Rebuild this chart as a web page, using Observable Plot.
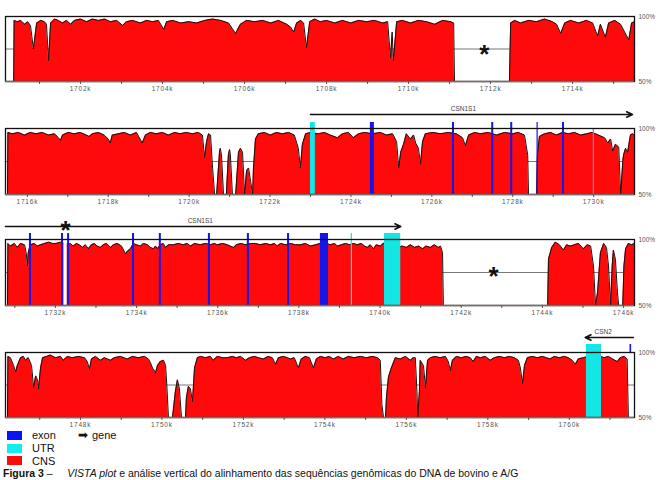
<!DOCTYPE html>
<html><head><meta charset="utf-8">
<script src="https://cdn.jsdelivr.net/npm/d3@7"></script>
<script src="https://cdn.jsdelivr.net/npm/@observablehq/plot@0.6"></script>
<style>
body{margin:0;background:#fff;}
#wrap{position:relative;width:660px;height:480px;overflow:hidden;font-family:'Liberation Sans',Arial,sans-serif;background:#fff;}
.panel{position:absolute;left:0;}
g[aria-label="x-axis tick label"] text{letter-spacing:0.8px;}
#legend{position:absolute;left:7px;top:429px;font-size:11px;line-height:12.8px;color:#111;}
#legend .row{display:flex;align-items:center;height:12.8px;}
#legend .sw{display:inline-block;width:15px;height:9px;margin-right:10px;}
#caption{position:absolute;left:3px;top:468px;font-size:10.5px;line-height:11px;white-space:nowrap;color:#111;}
</style></head>
<body><div id="wrap"></div>
<script>
// ---------- data (kb position, % identity) ----------
const p1Domain = [1700.17, 1715.51];
const p1Ticks = [1701,1702,1703,1704,1705,1706,1707,1708,1709,1710,1711,1712,1713,1714,1715];
const p1Labels = [1702,1704,1706,1708,1710,1712,1714];
const p1Profile = [[1700.37,50],[1700.38,97],[1700.46,96],[1700.54,97],[1700.64,94],[1700.71,96],[1700.78,93],[1700.85,75],[1700.93,95],[1701.03,97],[1701.12,96],[1701.17,94],[1701.22,66],[1701.27,95],[1701.37,98],[1701.46,97],[1701.56,95],[1701.66,97],[1701.76,94],[1701.85,97],[1702.00,98],[1702.15,96],[1702.29,98],[1702.44,97],[1702.59,98],[1702.73,96],[1702.88,97],[1703.03,93],[1703.12,96],[1703.27,97],[1703.46,95],[1703.61,97],[1703.76,96],[1703.90,97],[1704.03,90],[1704.10,96],[1704.25,97],[1704.44,95],[1704.64,96],[1704.83,95],[1705.03,97],[1705.22,98],[1705.42,97],[1705.61,95],[1705.78,87],[1705.90,94],[1706.05,97],[1706.25,96],[1706.44,97],[1706.64,95],[1706.83,97],[1707.03,94],[1707.12,92],[1707.20,88],[1707.27,95],[1707.37,97],[1707.44,95],[1707.51,76],[1707.59,96],[1707.71,98],[1707.85,96],[1708.00,97],[1708.20,95],[1708.39,97],[1708.59,95],[1708.78,97],[1708.98,96],[1709.17,97],[1709.37,95],[1709.49,96],[1709.56,68],[1709.60,88],[1709.63,66],[1709.71,96],[1709.85,97],[1710.05,95],[1710.24,97],[1710.44,96],[1710.64,94],[1710.83,97],[1711.03,96],[1711.10,95],[1711.12,50],[1711.80,null],[1712.46,50],[1712.49,95],[1712.59,97],[1712.73,95],[1712.93,97],[1713.12,96],[1713.32,98],[1713.51,96],[1713.61,94],[1713.71,87],[1713.81,95],[1713.95,97],[1714.15,95],[1714.34,97],[1714.49,95],[1714.61,85],[1714.68,94],[1714.80,84],[1714.88,95],[1715.03,97],[1715.17,94],[1715.37,82],[1715.44,95],[1715.51,96]];
const p1Asterisks = [[1711.85,76.2]];

const p2Domain = [1715.46, 1731.01];
const p2Ticks = [1716,1717,1718,1719,1720,1721,1722,1723,1724,1725,1726,1727,1728,1729,1730];
const p2Labels = [1716,1718,1720,1722,1724,1726,1728,1730];
const p2Profile = [[1715.51,50],[1715.52,97],[1715.63,96],[1715.78,97],[1715.93,95],[1716.07,97],[1716.22,96],[1716.37,97],[1716.52,95],[1716.67,96],[1716.77,93],[1716.82,91],[1716.87,95],[1717.01,97],[1717.16,96],[1717.31,97],[1717.46,95],[1717.53,94],[1717.61,96],[1717.76,97],[1717.90,95],[1718.00,92],[1718.05,89],[1718.10,95],[1718.25,96],[1718.40,97],[1718.55,95],[1718.70,97],[1718.84,89],[1718.92,95],[1719.04,97],[1719.19,96],[1719.34,97],[1719.49,95],[1719.64,97],[1719.78,96],[1719.93,97],[1720.08,96],[1720.23,97],[1720.33,95],[1720.38,78],[1720.43,90],[1720.48,96],[1720.53,95],[1720.58,70],[1720.63,50],[1720.65,null],[1720.68,50],[1720.75,82],[1720.77,85],[1720.80,80],[1720.85,50],[1720.88,null],[1720.92,50],[1720.97,80],[1721.00,84],[1721.02,80],[1721.07,50],[1721.10,null],[1721.15,50],[1721.22,82],[1721.27,85],[1721.32,82],[1721.37,50],[1721.42,68],[1721.47,70],[1721.52,60],[1721.57,50],[1721.59,70],[1721.64,92],[1721.71,96],[1721.86,97],[1722.01,95],[1722.16,97],[1722.31,96],[1722.46,97],[1722.60,95],[1722.70,85],[1722.75,70],[1722.80,88],[1722.88,96],[1723.00,97],[1723.20,96],[1723.35,97],[1723.49,95],[1723.67,93],[1723.79,96],[1723.94,97],[1724.06,93],[1724.19,96],[1724.34,97],[1724.53,96],[1724.73,97],[1724.88,95],[1725.03,96],[1725.13,90],[1725.18,70],[1725.23,82],[1725.30,88],[1725.37,96],[1725.47,92],[1725.55,95],[1725.60,89],[1725.67,85],[1725.72,73],[1725.77,90],[1725.84,96],[1726.02,97],[1726.22,96],[1726.41,97],[1726.61,96],[1726.76,93],[1726.83,87],[1726.91,95],[1727.06,97],[1727.20,96],[1727.40,97],[1727.60,95],[1727.80,97],[1728.00,96],[1728.14,97],[1728.29,95],[1728.37,80],[1728.39,50],[1728.50,null],[1728.59,50],[1728.61,80],[1728.66,94],[1728.79,96],[1728.94,97],[1729.08,95],[1729.23,97],[1729.38,96],[1729.53,97],[1729.68,95],[1729.83,96],[1729.97,97],[1730.12,95],[1730.27,93],[1730.35,89],[1730.42,92],[1730.47,83],[1730.54,88],[1730.62,86],[1730.67,50],[1730.72,75],[1730.74,80],[1730.79,85],[1730.84,82],[1730.91,95],[1730.96,96],[1731.01,95]];
const p2Exons = [[1724.48,1724.58],[1726.51,1726.56],[1727.48,1727.53],[1727.95,1728.00],[1728.60,1728.63],[1729.23,1729.28]];
const p2Utrs = [[1723.00,1723.12]];
const p2Faint = [[1729.99,1730.02]];
const p2Genes = [{name:"CSN1S1", start:1723.00, end:1730.96, labelAt:1726.78}];

const p3Domain = [1730.77, 1746.27];
const p3Ticks = [1731,1732,1733,1734,1735,1736,1737,1738,1739,1740,1741,1742,1743,1744,1745,1746];
const p3Labels = [1732,1734,1736,1738,1740,1742,1744,1746];
const p3Profile = [[1730.82,50],[1730.83,97],[1730.89,95],[1730.99,97],[1731.06,94],[1731.14,97],[1731.24,96],[1731.28,90],[1731.31,80],[1731.33,90],[1731.38,96],[1731.48,97],[1731.56,95],[1731.63,96],[1731.73,97],[1731.83,98],[1731.93,97],[1732.02,97],[1732.12,98],[1732.17,97],[1732.22,97],[1732.27,97],[1732.32,96],[1732.37,97],[1732.44,95],[1732.52,97],[1732.59,96],[1732.67,94],[1732.74,96],[1732.81,93],[1732.89,96],[1732.96,97],[1733.03,95],[1733.11,94],[1733.18,96],[1733.26,97],[1733.36,94],[1733.43,96],[1733.53,97],[1733.63,95],[1733.68,92],[1733.73,89],[1733.77,91],[1733.85,93],[1733.92,97],[1734.00,96],[1734.10,95],[1734.17,97],[1734.27,96],[1734.34,94],[1734.42,93],[1734.47,95],[1734.51,93],[1734.59,96],[1734.66,97],[1734.71,94],[1734.79,96],[1734.91,96],[1735.03,97],[1735.15,96],[1735.25,97],[1735.33,95],[1735.43,97],[1735.57,96],[1735.70,97],[1735.82,96],[1735.92,97],[1735.99,96],[1736.12,97],[1736.24,96],[1736.31,95],[1736.39,94],[1736.46,96],[1736.58,97],[1736.68,96],[1736.81,97],[1736.93,97],[1737.05,96],[1737.18,97],[1737.30,96],[1737.40,97],[1737.47,95],[1737.55,97],[1737.67,96],[1737.79,97],[1737.92,96],[1738.04,96],[1738.16,97],[1738.29,95],[1738.41,96],[1738.53,97],[1738.68,97],[1738.78,96],[1738.88,97],[1738.95,95],[1739.05,96],[1739.15,97],[1739.25,96],[1739.35,97],[1739.44,96],[1739.54,97],[1739.62,95],[1739.69,94],[1739.76,96],[1739.84,93],[1739.91,96],[1740.01,95],[1740.08,97],[1740.18,98],[1740.28,98],[1740.38,97],[1740.45,94],[1740.55,95],[1740.65,94],[1740.75,96],[1740.85,94],[1740.95,95],[1741.05,93],[1741.14,95],[1741.24,94],[1741.34,96],[1741.44,94],[1741.49,95],[1741.54,90],[1741.56,50],[1742.80,null],[1744.13,50],[1744.15,85],[1744.23,94],[1744.32,98],[1744.42,96],[1744.52,92],[1744.60,96],[1744.69,95],[1744.79,96],[1744.89,97],[1745.01,93],[1745.11,96],[1745.19,95],[1745.26,80],[1745.31,50],[1745.36,60],[1745.43,90],[1745.51,97],[1745.58,94],[1745.63,80],[1745.68,50],[1745.72,80],[1745.75,92],[1745.80,85],[1745.85,60],[1745.88,50],[1745.93,null],[1745.98,50],[1746.01,80],[1746.05,93],[1746.12,97],[1746.20,96],[1746.27,97]];
const p3Exons = [[1731.36,1731.41],[1732.15,1732.20],[1732.30,1732.35],[1733.90,1733.95],[1734.56,1734.61],[1735.77,1735.82],[1736.73,1736.78],[1737.72,1737.77],[1738.53,1738.73]];
const p3Gaps = [[1732.21,1732.29]];
const p3Utrs = [[1739.29,1739.32],[1740.11,1740.51]];
const p3Genes = [{name:"CSN1S1", start:1730.77, end:1740.51, labelAt:1735.57}];
const p3Asterisks = [[1742.80,77.3],[1732.25,112.1]];

const p4Domain = [1746.16, 1761.60];
const p4Ticks = [1747,1748,1749,1750,1751,1752,1753,1754,1755,1756,1757,1758,1759,1760,1761];
const p4Labels = [1748,1750,1752,1754,1756,1758,1760];
const p4Profile = [[1746.21,50],[1746.22,97],[1746.28,96],[1746.36,90],[1746.41,85],[1746.45,90],[1746.53,96],[1746.60,97],[1746.65,94],[1746.72,96],[1746.80,90],[1746.85,73],[1746.90,82],[1746.92,81],[1746.95,78],[1746.97,72],[1747.02,88],[1747.07,96],[1747.17,97],[1747.26,98],[1747.39,96],[1747.51,97],[1747.58,94],[1747.68,97],[1747.80,96],[1747.95,97],[1748.10,96],[1748.17,93],[1748.22,87],[1748.27,95],[1748.37,97],[1748.49,94],[1748.59,96],[1748.74,94],[1748.83,96],[1748.98,97],[1749.15,95],[1749.28,97],[1749.42,96],[1749.57,97],[1749.67,95],[1749.72,92],[1749.77,88],[1749.82,86],[1749.84,84],[1749.89,90],[1749.96,93],[1750.04,94],[1750.09,90],[1750.12,75],[1750.16,50],[1750.20,null],[1750.26,50],[1750.33,70],[1750.38,79],[1750.43,72],[1750.48,50],[1750.52,null],[1750.58,50],[1750.60,65],[1750.65,74],[1750.70,72],[1750.75,62],[1750.80,88],[1750.87,96],[1750.95,97],[1751.07,96],[1751.19,97],[1751.26,94],[1751.36,97],[1751.49,96],[1751.61,96],[1751.73,97],[1751.83,96],[1751.93,97],[1752.05,94],[1752.15,96],[1752.27,97],[1752.37,96],[1752.49,95],[1752.61,97],[1752.71,96],[1752.79,91],[1752.86,96],[1752.98,97],[1753.08,96],[1753.15,95],[1753.25,96],[1753.35,88],[1753.42,95],[1753.52,97],[1753.62,96],[1753.72,88],[1753.79,95],[1753.89,97],[1754.01,96],[1754.11,97],[1754.21,95],[1754.33,97],[1754.45,95],[1754.58,97],[1754.72,96],[1754.87,97],[1755.02,96],[1755.17,97],[1755.29,96],[1755.36,94],[1755.40,60],[1755.44,50],[1755.46,null],[1755.49,50],[1755.51,65],[1755.56,81],[1755.63,88],[1755.73,96],[1755.85,95],[1755.98,97],[1756.10,94],[1756.17,96],[1756.22,96],[1756.26,70],[1756.28,50],[1756.32,70],[1756.34,94],[1756.42,90],[1756.47,73],[1756.52,94],[1756.59,96],[1756.71,97],[1756.83,96],[1756.96,97],[1757.03,93],[1757.08,86],[1757.13,94],[1757.23,97],[1757.35,96],[1757.47,97],[1757.57,96],[1757.64,93],[1757.72,97],[1757.82,96],[1757.94,97],[1758.06,94],[1758.16,96],[1758.28,97],[1758.41,96],[1758.53,97],[1758.65,96],[1758.75,94],[1758.80,88],[1758.85,76],[1758.90,90],[1758.97,96],[1759.09,97],[1759.22,96],[1759.34,97],[1759.44,96],[1759.53,95],[1759.63,97],[1759.76,96],[1759.88,97],[1759.98,96],[1760.07,94],[1760.15,91],[1760.22,95],[1760.34,96],[1760.47,97],[1760.61,96],[1760.76,97],[1760.86,96],[1760.96,97],[1761.06,95],[1761.18,93],[1761.25,96],[1761.35,97],[1761.42,95],[1761.45,50]];
const p4Utrs = [[1760.42,1760.79]];
const p4ExonMarks = [[1761.49,1761.53]];
const p4Genes = [{name:"CSN2", start:1761.57, end:1760.39, labelAt:1760.83}];

const scaleLabels = [{v:100, t:"100%"}, {v:50, t:"50%"}];
const legendItems = [{name:"exon", color:"#0a14f0"}, {name:"UTR", color:"#12eeee"}, {name:"CNS", color:"#ff0a0a"}];

// ---------- drawing ----------
const RED = "#ff0a0a", BLUE = "#1616e8", CYAN = "#14e6e6";
const FONT = "'Liberation Sans', Arial, sans-serif";
const wrap = document.getElementById("wrap");

function makePanel(cfg) {
  const pxPerPct = (cfg.height - cfg.mt - cfg.mb) / 50;
  const capTop = 100 + cfg.cap / pxPerPct;
  const X1 = d => d[0], X2 = d => d[1];
  const marks = [
    Plot.ruleY([75], {stroke: "#6a6a6a", strokeWidth: 0.9}),
    Plot.areaY(cfg.profile, {x: X1, y1: () => 50, y2: d => d[1], fill: RED}),
    Plot.lineY(cfg.profile, {x: X1, y: d => d[1], stroke: "#1a1010", strokeWidth: 1}),
    Plot.rect(cfg.gaps || [], {x1: X1, x2: X2, y1: () => 50, y2: () => 100, fill: "white"}),
    Plot.rect(cfg.faint || [], {x1: X1, x2: X2, y1: () => 50, y2: () => 100, fill: "#8c86b4"}),
    Plot.rect(cfg.utrs || [], {x1: X1, x2: X2, y1: () => 50, y2: () => capTop, fill: CYAN}),
    Plot.rect(cfg.exons || [], {x1: X1, x2: X2, y1: () => 50, y2: () => capTop, fill: BLUE}),
    Plot.rect(cfg.marksOnly || [], {x1: X1, x2: X2, y1: () => 100, y2: () => capTop, fill: BLUE}),
    Plot.frame({stroke: "#111", strokeWidth: 1.3}),
    Plot.ruleY([50], {stroke: "#7d6b6b", strokeWidth: 1.6}),
    Plot.axisX({ticks: cfg.ticks, tickSize: 3, tickPadding: 2, anchor: "bottom", label: null,
      tickFormat: d => cfg.labels.includes(d) ? d + "k" : "", fontSize: 6.5, color: "#555"}),
    Plot.text(scaleLabels, {x: () => cfg.domain[1], y: d => d.v, text: d => d.t, dx: 4,
      textAnchor: "start", fontSize: 6.5, fill: "#555"})
  ];
  if (cfg.genes) {
    marks.push(Plot.arrow(cfg.genes, {x1: d => d.start, x2: d => d.end, y1: () => 100, y2: () => 100,
      dy: -cfg.geneDy, stroke: "#111", strokeWidth: 1.6, headLength: 6, headAngle: 50}));
    marks.push(Plot.text(cfg.genes, {x: d => d.labelAt, y: () => 100, dy: -cfg.geneDy - 6,
      text: d => d.name, fontSize: 6.5, fill: "#444"}));
  }
  if (cfg.asterisks) {
    marks.push(Plot.text(cfg.asterisks, {x: X1, y: d => d[1], text: () => "*", fontSize: 26,
      fontWeight: "bold", fill: "#111", dy: 7}));
  }
  const svg = Plot.plot({
    width: 660, height: cfg.height,
    marginLeft: 5, marginRight: 26, marginTop: cfg.mt, marginBottom: cfg.mb,
    x: {domain: cfg.domain, label: null},
    y: {domain: [50, 100], axis: null},
    style: {fontFamily: FONT, fontSize: "6.5px", background: "transparent", overflow: "visible"},
    marks
  });
  const div = document.createElement("div");
  div.className = "panel";
  div.style.top = cfg.top + "px";
  div.appendChild(svg);
  wrap.appendChild(div);
}

makePanel({top: 0, height: 100, mt: 16, mb: 19, cap: 5, domain: p1Domain, ticks: p1Ticks, labels: p1Labels,
  profile: p1Profile, asterisks: p1Asterisks});
makePanel({top: 100, height: 110, mt: 28, mb: 16, cap: 6, domain: p2Domain, ticks: p2Ticks, labels: p2Labels,
  profile: p2Profile, exons: p2Exons, utrs: p2Utrs, faint: p2Faint, genes: p2Genes, geneDy: 14});
makePanel({top: 210, height: 110, mt: 29, mb: 15, cap: 6, domain: p3Domain, ticks: p3Ticks, labels: p3Labels,
  profile: p3Profile, exons: p3Exons, gaps: p3Gaps, utrs: p3Utrs, genes: p3Genes, geneDy: 13, asterisks: p3Asterisks});
makePanel({top: 320, height: 110, mt: 32, mb: 13, cap: 8, domain: p4Domain, ticks: p4Ticks, labels: p4Labels,
  profile: p4Profile, utrs: p4Utrs, marksOnly: p4ExonMarks, genes: p4Genes, geneDy: 15});

// legend
const legend = document.createElement("div");
legend.id = "legend";
legendItems.forEach((it, i) => {
  const row = document.createElement("div");
  row.className = "row";
  row.innerHTML = `<span class="sw" style="background:${it.color}"></span><span style="width:46px;display:inline-block">${it.name}</span>` +
    (i === 0 ? `<span style="font-size:12px;margin-right:4px">➡</span><span>gene</span>` : "");
  legend.appendChild(row);
});
wrap.appendChild(legend);

const cap = document.createElement("div");
cap.id = "caption";
cap.innerHTML = "<b>Figura 3</b> –&nbsp;&nbsp;&nbsp;&nbsp;&nbsp;<i>VISTA plot</i> e análise vertical do alinhamento das sequências genômicas do DNA de bovino e A/G";
wrap.appendChild(cap);
</script>
</body></html>
